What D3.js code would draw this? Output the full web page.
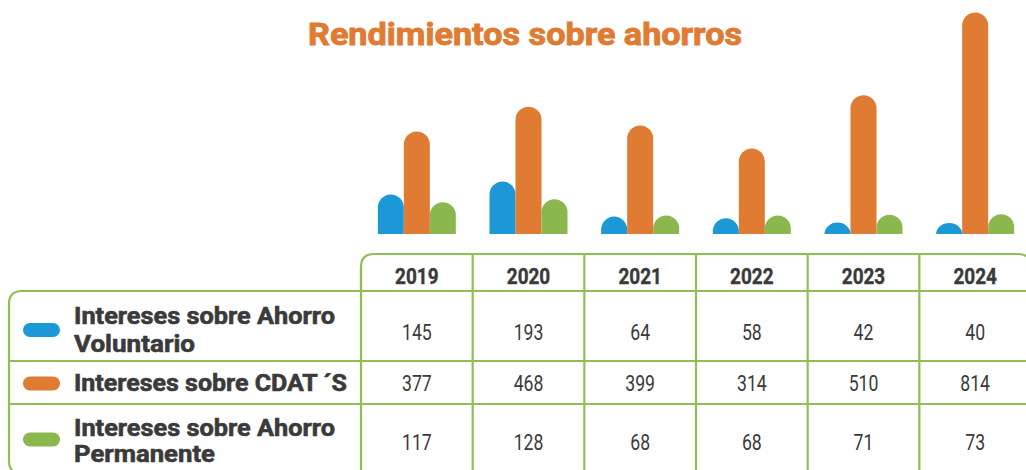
<!DOCTYPE html>
<html lang="es">
<head>
<meta charset="utf-8">
<title>Rendimientos sobre ahorros</title>
<script src="https://cdn.jsdelivr.net/npm/d3@7"></script>
<style>
  html, body { margin: 0; padding: 0; background: #ffffff; }
  svg { display: block; }
  text { font-family: Roboto, "Open Sans", sans-serif; }
</style>
</head>
<body>
<svg id="chart" width="1026" height="470"></svg>
<script>
// Years shown as table columns
const years = ["2019", "2020", "2021", "2022", "2023", "2024"];

// Series keys and their table labels (one entry per line)
const seriesKeys = ["voluntario", "cdat", "permanente"];
const seriesLabels = [
  ["Intereses sobre Ahorro", "Voluntario"],
  ["Intereses sobre CDAT \u00B4S"],
  ["Intereses sobre Ahorro", "Permanente"]
];

// Values per series, in the same order as years
const ahorroVoluntario = [145, 193, 64, 58, 42, 40];
const cdats            = [377, 468, 399, 314, 510, 814];
const ahorroPermanente = [117, 128, 68, 68, 71, 73];

const seriesValues = [ahorroVoluntario, cdats, ahorroPermanente];
const seriesColors = ["#1b98d5", "#e07b33", "#8ab84e"];

const title = "Rendimientos sobre ahorros";

const svg = d3.select("#chart");

const ink = "#3a3a3a";
const grid = "#8dbf52";

// ---- layout ----
const tableLeft = 9;
const colLeft = 361;
const colRight = 1031;
const headerTop = 254;
const rowEdges = [291, 361, 404, 474];
const baseline = 234;

const x = d3.scaleBand().domain(years).range([colLeft, colRight]);
const xs = d3.scaleBand().domain(seriesKeys).range([-39, 39]);
const y = d3.scaleLinear().domain([0, 860]).range([baseline, 0]);

// squeeze a text element horizontally to a target width
function fitWidth(sel, width) {
  sel.each(function () {
    this.setAttribute("textLength", width);
    this.setAttribute("lengthAdjust", "spacingAndGlyphs");
  });
}
function condense(sel, ratio) {
  sel.each(function () {
    const w = this.getComputedTextLength();
    this.setAttribute("textLength", w * ratio);
    this.setAttribute("lengthAdjust", "spacingAndGlyphs");
  });
}

// ---- title ----
svg.append("text")
  .attr("x", 525)
  .attr("y", 44.5)
  .attr("text-anchor", "middle")
  .attr("font-size", 32)
  .attr("font-weight", 700)
  .attr("fill", "#e07b33")
  .attr("stroke", "#e07b33")
  .attr("stroke-width", 0.9)
  .text(title)
  .call(fitWidth, 434);

// ---- bars with rounded tops ----
function barPath(x0, w, yTop, yBase) {
  const h = yBase - yTop;
  const rx = w / 2;
  const ry = Math.min(rx, h);
  return `M${x0},${yBase}` +
    `L${x0},${yTop + ry}` +
    `A${rx},${ry} 0 0 1 ${x0 + rx},${yTop}` +
    `A${rx},${ry} 0 0 1 ${x0 + w},${yTop + ry}` +
    `L${x0 + w},${yBase}Z`;
}

const barData = [];
years.forEach((yr, i) => {
  seriesKeys.forEach((k, j) => {
    barData.push({ year: yr, key: k, value: seriesValues[j][i], color: seriesColors[j] });
  });
});

svg.append("g").selectAll("path")
  .data(barData)
  .join("path")
  .attr("d", d => {
    const x0 = x(d.year) + x.bandwidth() / 2 + xs(d.key);
    return barPath(x0, xs.bandwidth(), y(d.value), y(0));
  })
  .attr("fill", d => d.color);

// ---- table frame ----
const r = 13;
const frame = svg.append("g")
  .attr("fill", "none")
  .attr("stroke", grid)
  .attr("stroke-width", 2.2);

// header strip with rounded top corners
frame.append("path").attr("d",
  `M${colLeft},${rowEdges[0]}L${colLeft},${headerTop + r}` +
  `Q${colLeft},${headerTop} ${colLeft + r},${headerTop}` +
  `L${colRight - r},${headerTop}` +
  `Q${colRight},${headerTop} ${colRight},${headerTop + r}` +
  `L${colRight},${rowEdges[3]}`);

// label block with rounded left corners
const bottom = rowEdges[3];
frame.append("path").attr("d",
  `M${colLeft},${rowEdges[0]}L${tableLeft + r},${rowEdges[0]}` +
  `Q${tableLeft},${rowEdges[0]} ${tableLeft},${rowEdges[0] + r}` +
  `L${tableLeft},${bottom - r}` +
  `Q${tableLeft},${bottom} ${tableLeft + r},${bottom}` +
  `L${colRight},${bottom}`);

// horizontal row lines
frame.selectAll("line.h")
  .data(rowEdges.slice(0, 3))
  .join("line")
  .attr("class", "h")
  .attr("x1", (d, i) => i === 0 ? colLeft : tableLeft)
  .attr("x2", colRight)
  .attr("y1", d => d)
  .attr("y2", d => d);

// vertical column lines
frame.selectAll("line.v")
  .data(years)
  .join("line")
  .attr("class", "v")
  .attr("x1", d => x(d))
  .attr("x2", d => x(d))
  .attr("y1", (d, i) => i === 0 ? headerTop + r : headerTop)
  .attr("y2", rowEdges[3]);

// ---- header years ----
svg.append("g").selectAll("text")
  .data(years)
  .join("text")
  .attr("x", d => x(d) + x.bandwidth() / 2)
  .attr("y", 284)
  .attr("text-anchor", "middle")
  .attr("font-size", 22)
  .attr("font-weight", 700)
  .attr("fill", ink)
  .attr("stroke", ink)
  .attr("stroke-width", 0.4)
  .text(d => d)
  .call(condense, 0.86);

// ---- values ----
const valueBaselines = [339.5, 391, 449.5];
seriesValues.forEach((vals, j) => {
  svg.append("g").selectAll("text")
    .data(vals)
    .join("text")
    .attr("x", (d, i) => x(years[i]) + x.bandwidth() / 2)
    .attr("y", valueBaselines[j])
    .attr("text-anchor", "middle")
    .attr("font-size", 21.5)
    .attr("fill", ink)
    .text(d => d)
    .call(condense, 0.82);
});

// ---- legend swatches and row labels ----
const swatchCenters = [330, 383.5, 439.5];
svg.append("g").selectAll("rect")
  .data(seriesColors)
  .join("rect")
  .attr("x", 23)
  .attr("y", (d, j) => swatchCenters[j] - 7)
  .attr("width", 37)
  .attr("height", 14)
  .attr("rx", 7)
  .attr("fill", d => d);

const labelBaselines = [[323.5, 352], [390.5], [435.5, 462]];
const labelWidths = {
  "Intereses sobre Ahorro": 261,
  "Voluntario": 121,
  "Intereses sobre CDAT \u00B4S": 273,
  "Permanente": 141
};
seriesLabels.forEach((lines, j) => {
  svg.append("g").selectAll("text")
    .data(lines)
    .join("text")
    .attr("x", 74)
    .attr("y", (d, k) => labelBaselines[j][k])
    .attr("font-size", 24.5)
    .attr("font-weight", 700)
    .attr("fill", ink)
    .attr("stroke", ink)
    .attr("stroke-width", 0.6)
    .text(d => d)
    .each(function (d) {
      this.setAttribute("textLength", labelWidths[d]);
      this.setAttribute("lengthAdjust", "spacingAndGlyphs");
    });
});
</script>
</body>
</html>
